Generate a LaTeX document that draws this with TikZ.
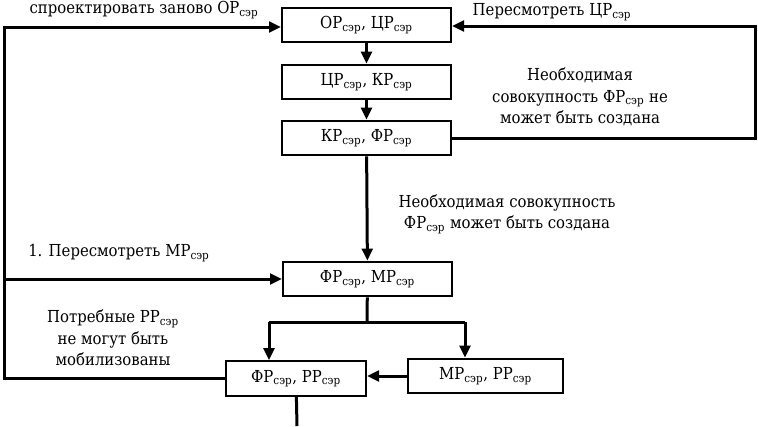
\documentclass[tikz,border=0pt]{standalone}
\usepackage{fontspec}
\setmainfont{DejaVu Serif Condensed}
\usetikzlibrary{arrows.meta}
\newcommand{\ser}{\textsubscript{сэр}}
\tikzset{
  box/.style={draw, line width=1.5pt, minimum width=126.75pt, minimum height=26pt, inner sep=0pt},
  conn/.style={draw, line width=2.25pt},
  arr/.style={conn, -{Triangle[length=9pt,width=8pt]}},
  lbl/.style={align=center, inner sep=0pt}
}
\begin{document}
\begin{tikzpicture}[x=0.75pt,y=-0.75pt,font=\fontsize{12.4}{16}\selectfont]
\useasboundingbox (0,0) rectangle (758,426);
\node[box] (1) at (366.5,25) {ОР\ser, ЦР\ser};
\node[box] (2) at (366.5,82) {ЦР\ser, КР\ser};
\node[box] (3) at (366.5,138) {КР\ser, ФР\ser};
\node[box] (4) at (367.5,279) {ФР\ser, МР\ser};
\node[box, minimum width=105pt] (5) at (296,378.5) {ФР\ser, РР\ser};
\node[box, minimum width=116.25pt] (6) at (485.5,376) {МР\ser, РР\ser};
\coordinate (fork) at (367,322);
\coordinate (end) at (297,426);
\node[lbl] (t1) at (144,10) {спроектировать заново ОР\ser};
\node[lbl] (t2) at (552,12) {Пересмотреть ЦР\ser};
\node[lbl] (t3) at (580,97) {Необходимая\\совокупность ФР\ser{} не\\может быть создана};
\node[lbl] (t4) at (507,214) {Необходимая совокупность\\ФР\ser{} может быть создана};
\node[lbl, anchor=west] (t5) at (28,253) {1. Пересмотреть МР\ser};
\node[lbl] (t6) at (113,338) {Потребные РР\ser\\не могут быть\\мобилизованы};
\path[arr] (1) -- (2);
\path[arr] (2) -- (3);
\path[arr] (3) -- (4);
\path[conn] (4) -- (fork);
\path[arr] (fork -| 269,0) -- (fork -| 465,0) (269,322) -- (269,322 |- 5.north);
\path[arr] (465,322) -- (465,322 |- 6.north);
\path[arr] (6.west) -- (6.west -| 5.east);
\path[conn] (5) -- (end);
\path[arr] (5.west) -- (4,378.5) -- (4,27) -- (1.west |- 0,27);
\path[arr] (4,279) -- (4.west);
\path[arr] (3.east) -- (755,138) -- (755,26) -- (1.east |- 0,26);
\end{tikzpicture}
\end{document}
